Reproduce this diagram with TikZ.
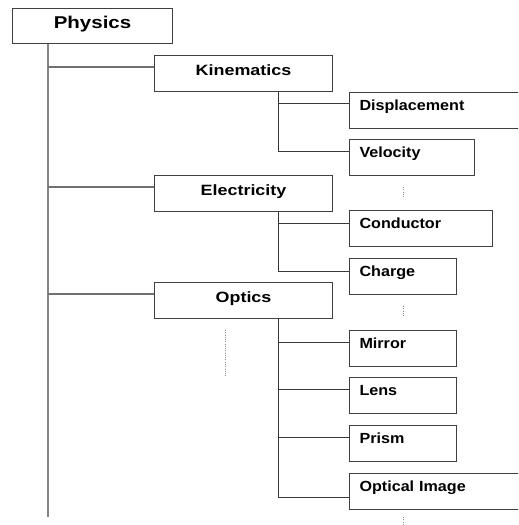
\documentclass[tikz,border=0pt]{standalone}
\usepackage{fontspec}
\newfontfamily\hfont{Liberation Sans}[FakeStretch=1.2]
\newfontfamily\cfont{Liberation Sans}[FakeStretch=1.1]
\definecolor{boxc}{HTML}{404040}
\definecolor{trunkc}{HTML}{858585}
\definecolor{branchc}{HTML}{707070}
\definecolor{subc}{HTML}{383838}
\definecolor{dotc}{HTML}{8A8A8A}
\begin{document}
\begin{tikzpicture}[x=0.75pt,y=-0.75pt,
  box/.style={draw=boxc,line width=0.8pt,anchor=north west,inner ysep=0pt,text=black},
  rootbox/.style={box,inner xsep=0pt,text width=120pt,align=center,text height=15.2pt,text depth=11pt,
    font=\hfont\bfseries\fontsize{12.8pt}{14pt}\selectfont},
  lvone/.style={box,inner xsep=0pt,text width=133.5pt,align=center,text height=14.6pt,text depth=12.4pt,
    font=\hfont\bfseries\fontsize{11.2pt}{13pt}\selectfont},
  lvtwo/.style={box,inner xsep=7.5pt,text width=#1,align=left,text height=13.5pt,text depth=13.5pt,
    font=\cfont\bfseries\fontsize{11pt}{13pt}\selectfont},
  trunk/.style={draw=trunkc,line width=1.3pt},
  branch/.style={draw=branchc,line width=0.9pt},
  sub/.style={draw=subc,line width=0.75pt},
  dotline/.style={draw=dotc,line width=0.7pt,densely dotted}]
\useasboundingbox (0,0) rectangle (518,525);
\clip (0,0) rectangle (518,525);
% boxes
\node[rootbox] (phys) at (12,8) {Physics};
\node[lvone] (kin) at (154,55) {Kinematics};
\node[lvone] (elec) at (154,175) {Electricity};
\node[lvone] (opt) at (154,282) {Optics};
\node[lvtwo=120.75pt] (disp) at (349,92) {Displacement};
\node[lvtwo=78.75pt] (vel) at (349,139) {Velocity};
\node[lvtwo=92.25pt] (cond) at (349,210) {Conductor};
\node[lvtwo=65.25pt] (charge) at (349,258) {Charge};
\node[lvtwo=65.25pt] (mirror) at (349,330) {Mirror};
\node[lvtwo=65.25pt] (lens) at (349,377) {Lens};
\node[lvtwo=65.25pt] (prism) at (349,425) {Prism};
\node[lvtwo=120.75pt] (oimg) at (349,473) {Optical Image};
% connection points
\coordinate (tend) at (48,517);
\coordinate (kb) at ([yshift=-9pt]kin.north west);
\coordinate (eb) at ([yshift=-9pt]elec.north west);
\coordinate (ob) at ([yshift=-9pt]opt.north west);
\coordinate (ks) at ([xshift=93pt]kin.south west);
\coordinate (es) at ([xshift=93pt]elec.south west);
\coordinate (os) at ([xshift=93pt]opt.south west);
\coordinate (dc) at ([yshift=-8.25pt]disp.north west);
\coordinate (vc) at ([yshift=-9pt]vel.north west);
\coordinate (cc) at ([yshift=-9.75pt]cond.north west);
\coordinate (chc) at ([yshift=-9.75pt]charge.north west);
\coordinate (mc) at ([yshift=-9pt]mirror.north west);
\coordinate (lc) at ([yshift=-9pt]lens.north west);
\coordinate (pc) at ([yshift=-9pt]prism.north west);
\coordinate (oc) at ([yshift=-18pt]oimg.north west);
% main trunk and branches
\draw[trunk] (phys.south -| tend) -- (tend);
\draw[branch] (kb -| tend) -- (kb);
\draw[branch] (eb -| tend) -- (eb);
\draw[branch] (ob -| tend) -- (ob);
% sub trunks
\draw[sub] (ks) -- (ks |- vc);
\draw[sub] (dc -| ks) -- (dc);
\draw[sub] (vc -| ks) -- (vc);
\draw[sub] (es) -- (es |- chc);
\draw[sub] (cc -| es) -- (cc);
\draw[sub] (chc -| es) -- (chc);
\draw[sub] (os) -- (os |- oc);
\draw[sub] (mc -| os) -- (mc);
\draw[sub] (lc -| os) -- (lc);
\draw[sub] (pc -| os) -- (pc);
\draw[sub] (oc -| os) -- (oc);
% ellipsis marks
\draw[dotline] (403,187) -- (403,198);
\draw[dotline] (403,306) -- (403,317);
\draw[dotline] (403,517) -- (403,525);
\draw[dotline] (225,330) -- (225,377);
\end{tikzpicture}
\end{document}
